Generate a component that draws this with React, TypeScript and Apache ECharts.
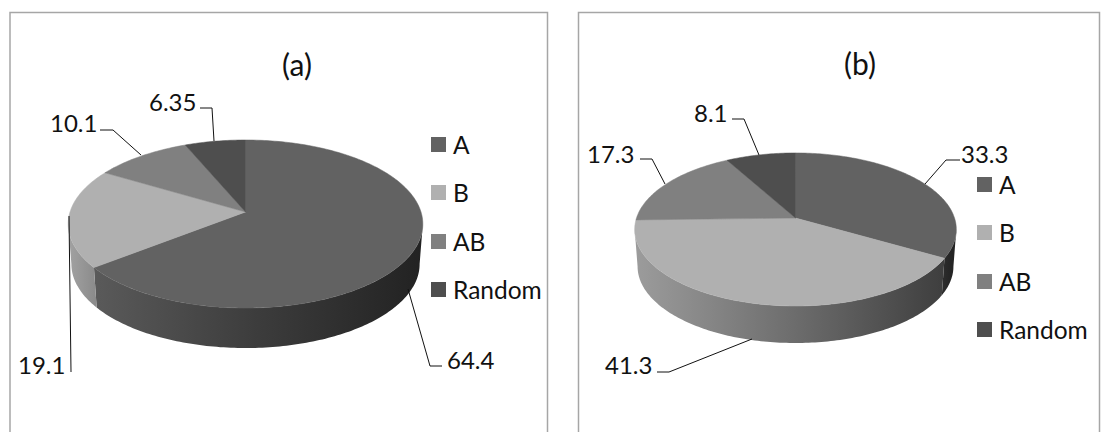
import React, { useEffect, useRef } from "react";
import * as echarts from "echarts";

const categories = ["A", "B", "AB", "Random"];
const valuesA = [64.4, 19.1, 10.1, 6.35];
const valuesB = [33.3, 41.3, 17.3, 8.1];
const titles = ["(a)", "(b)"];

const topColors = ["#626262", "#b0b0b0", "#808080", "#4e4e4e"];
const FONT = "Lato";

const pieA = {
  values: valuesA, cx: 245.5, ay: 212, rx: 175.5, b: 82.3, k: 0.1429, depth: 40, shrink: 0.982,
  wallStops: [
    ["#5a5a5a", "#3c3c3c", "#222222"],
    ["#a2a2a2", "#969696", "#8a8a8a"],
    ["#808080", "#808080", "#808080"],
    ["#4e4e4e", "#4e4e4e", "#4e4e4e"],
  ],
  frame: { x: 10, y: 12.5, w: 537.5, h: 430 },
  title: { x: 297, y: 64 },
  legendX: 431,
  legendY: [137, 185, 234, 282],
  labels: [
    { x: 447, y: 359 },
    { x: 18, y: 364 },
    { x: 50, y: 122 },
    { x: 149, y: 101 },
  ],
  leaders: [
    [[408, 289], [430, 366], [442, 366]],
    [[69, 216], [71, 372]],
    [[100, 130], [113, 130], [141, 155]],
    [[200, 108], [212, 108], [214, 141]],
  ],
};

const pieB = {
  values: valuesB, cx: 795.5, ay: 218, rx: 159, b: 74.8, k: 0.15, depth: 37, shrink: 0.982,
  wallStops: [
    ["#2e2e2e", "#262626", "#222222"],
    ["#9c9c9c", "#6e6e6e", "#3e3e3e"],
    ["#808080", "#808080", "#808080"],
    ["#4e4e4e", "#4e4e4e", "#4e4e4e"],
  ],
  frame: { x: 578.5, y: 12.5, w: 521, h: 430 },
  title: { x: 860, y: 63 },
  legendX: 977,
  legendY: [177, 225, 274, 322],
  labels: [
    { x: 961, y: 153 },
    { x: 605, y: 364 },
    { x: 587, y: 153 },
    { x: 694, y: 112 },
  ],
  leaders: [
    [[960, 160], [946, 160], [925, 184]],
    [[657, 372], [669, 372], [752, 339]],
    [[640, 159], [652, 159], [665, 184]],
    [[732, 119], [744, 119], [759, 155]],
  ],
};

type Pie = typeof pieA;

function rimPoint(p: Pie, deg: number): [number, number] {
  const t = (deg * Math.PI) / 180;
  const u = Math.sin(t);
  const v = -Math.cos(t);
  const d = 1 - p.k * v;
  return [p.cx + (p.rx * u) / d, p.ay + (p.b * v) / d];
}

function sliceRange(p: Pie, i: number): [number, number] {
  const total = p.values.reduce((a, c) => a + c, 0);
  const before = p.values.slice(0, i).reduce((a, c) => a + c, 0);
  return [(before / total) * 360, ((before + p.values[i]) / total) * 360];
}

function sample(a: number, b: number): number[] {
  const out: number[] = [];
  for (let d = a; d < b; d += 1) out.push(d);
  out.push(b);
  return out;
}

function wallSeries(p: Pie) {
  const frontStart = (Math.acos(-p.k) * 180) / Math.PI;
  const frontEnd = 360 - frontStart;
  return {
    type: "custom",
    coordinateSystem: "none",
    z: 1,
    silent: true,
    data: p.values.map((v, i) => ({ name: categories[i], value: [v] })),
    renderItem: (params: any) => {
      const i = params.dataIndex;
      const [a0, a1] = sliceRange(p, i);
      const a = Math.max(a0, frontStart);
      const b = Math.min(a1, frontEnd);
      if (b <= a) return { type: "group", children: [] };
      const top = sample(a, b).map((d) => rimPoint(p, d));
      const bottom = top
        .map(([x, y]) => [p.cx + (x - p.cx) * p.shrink, y + p.depth])
        .reverse();
      const st = p.wallStops[i];
      return {
        type: "polygon",
        shape: { points: [...top, ...bottom] },
        style: {
          fill: new echarts.graphic.LinearGradient(0, 0, 1, 0, [
            { offset: 0, color: st[0] },
            { offset: 0.5, color: st[1] },
            { offset: 1, color: st[2] },
          ]),
          stroke: "none",
        },
      };
    },
  };
}

function topSeries(p: Pie) {
  return {
    type: "custom",
    coordinateSystem: "none",
    z: 2,
    silent: true,
    data: p.values.map((v, i) => ({ name: categories[i], value: [v] })),
    renderItem: (params: any) => {
      const i = params.dataIndex;
      const [a0, a1] = sliceRange(p, i);
      const pts = [[p.cx, p.ay], ...sample(a0, a1).map((d) => rimPoint(p, d))];
      return {
        type: "polygon",
        shape: { points: pts },
        style: { fill: topColors[i], stroke: topColors[i], lineWidth: 0.5 },
      };
    },
  };
}

function decorations(p: Pie, title: string) {
  const items: any[] = [];
  items.push({
    type: "rect", z: 0,
    shape: { x: p.frame.x, y: p.frame.y, width: p.frame.w, height: p.frame.h },
    style: { fill: "#ffffff", stroke: "#a6a6a6", lineWidth: 1.5 },
  });
  items.push({
    type: "text", z: 10, x: p.title.x, y: p.title.y,
    style: { text: title, font: `30px ${FONT}`, fill: "#111111", align: "center", verticalAlign: "middle" },
  });
  categories.forEach((c, i) => {
    items.push({
      type: "rect", z: 10,
      shape: { x: p.legendX, y: p.legendY[i], width: 15, height: 15 },
      style: { fill: topColors[i] },
    });
    items.push({
      type: "text", z: 10, x: p.legendX + 22, y: p.legendY[i] + 7.5,
      style: { text: c, font: `24.5px ${FONT}`, fill: "#111111", align: "left", verticalAlign: "middle" },
    });
    items.push({
      type: "polyline", z: 10,
      shape: { points: p.leaders[i] },
      style: { stroke: "#111111", lineWidth: 1, fill: "none" },
    });
    items.push({
      type: "text", z: 10, x: p.labels[i].x, y: p.labels[i].y,
      style: { text: String(p.values[i]), font: `24px ${FONT}`, fill: "#111111", align: "left", verticalAlign: "middle" },
    });
  });
  return items;
}

export default function App() {
  const ref = useRef<HTMLDivElement>(null);
  useEffect(() => {
    const chart = echarts.init(ref.current as HTMLDivElement, undefined, { renderer: "svg" });
    chart.setOption({
      animation: false,
      backgroundColor: "#ffffff",
      graphic: { elements: [...decorations(pieA, titles[0]), ...decorations(pieB, titles[1])] },
      series: [wallSeries(pieA), topSeries(pieA), wallSeries(pieB), topSeries(pieB)],
    });
    return () => chart.dispose();
  }, []);
  return <div ref={ref} style={{ position: "fixed", left: 0, top: 0, width: 1103, height: 432 }} />;
}
